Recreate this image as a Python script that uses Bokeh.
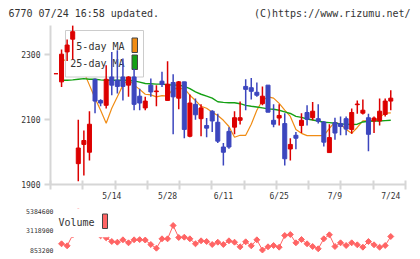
import numpy as np
from bokeh.plotting import figure
from bokeh.layouts import column
from bokeh.models import (FixedTicker, LinearAxis, ColumnDataSource,
                          CustomJSTickFormatter, NumeralTickFormatter, Range1d)
from bokeh.core.properties import value
from bokeh.embed import file_html
from bokeh.resources import INLINE

FONT = "DejaVu Sans Mono"

# ---------------- data (2018 trading days) ----------------
dates = ["4/25", "4/26", "4/27", "5/1", "5/2", "5/7", "5/8", "5/9", "5/10", "5/11",
         "5/14", "5/15", "5/16", "5/17", "5/18", "5/21", "5/22", "5/23", "5/24", "5/25",
         "5/28", "5/29", "5/30", "5/31", "6/1", "6/4", "6/5", "6/6", "6/7", "6/8",
         "6/11", "6/12", "6/13", "6/14", "6/15", "6/18", "6/19", "6/20", "6/21", "6/22",
         "6/25", "6/26", "6/27", "6/28", "6/29", "7/2", "7/3", "7/4", "7/5", "7/6",
         "7/9", "7/10", "7/11", "7/12", "7/13", "7/17", "7/18", "7/19", "7/20", "7/23",
         "7/24"]

open_ = [2240, 2215, 2307, 2346, 1964, 2023, 1999, 2223, 2158, 2143,
         2230, 2220, 2230, 2205, 2230, 2171, 2135, 2205, 2185, 2217,
         2158, 2213, 2165, 2215, 2048, 2146, 2102, 2081, 2125, 2091,
         2015, 2063, 2076, 2097, 2201, 2197, 2183, 2148, 2205, 2097,
         2104, 2087, 2009, 2051, 2081, 2121, 2105, 2102, 2092, 1998,
         2090, 2087, 2102, 2069, 2145, 2119, 2105, 2095, 2095, 2115,
         2156]
high = [2240, 2314, 2345, 2389, 2099, 2066, 2125, 2225, 2162, 2266,
        2307, 2312, 2287, 2232, 2256, 2194, 2169, 2225, 2205, 2246,
        2278, 2238, 2218, 2215, 2176, 2164, 2146, 2104, 2128, 2117,
        2027, 2076, 2125, 2155, 2223, 2227, 2213, 2201, 2205, 2146,
        2146, 2119, 2042, 2061, 2119, 2143, 2153, 2146, 2095, 2085,
        2105, 2109, 2109, 2133, 2158, 2161, 2117, 2109, 2164, 2164,
        2189]
low = [2240, 2199, 2279, 2284, 1910, 1928, 1974, 2119, 2140, 2133,
       2174, 2179, 2158, 2169, 2128, 2128, 2128, 2169, 2140, 2199,
       2158, 2054, 2131, 2042, 2045, 2099, 2048, 2045, 2061, 2027,
       1958, 2010, 2054, 2084, 2128, 2161, 2169, 2143, 2122, 2076,
       2081, 1958, 1974, 2008, 2058, 2081, 2097, 2087, 2017, 1998,
       2037, 2051, 2051, 2056, 2117, 2115, 2002, 2058, 2081, 2109,
       2128]
close = [2240, 2300, 2328, 2369, 2012, 2035, 2085, 2156, 2150, 2223,
         2205, 2201, 2201, 2230, 2146, 2150, 2156, 2184, 2187, 2207,
         2208, 2169, 2215, 2069, 2150, 2114, 2135, 2073, 2095, 2033,
         1999, 2015, 2105, 2105, 2192, 2186, 2174, 2171, 2122, 2085,
         2112, 1979, 2023, 2042, 2097, 2100, 2125, 2094, 2030, 2044,
         2058, 2078, 2070, 2121, 2147, 2128, 2054, 2104, 2125, 2156,
         2165]

# from 4/26 onward
ma5 = [2282, 2282, 2275, 2288, 2245, 2205, 2165, 2128, 2088, 2134,
       2169, 2205, 2223, 2205, 2192, 2177, 2175, 2169, 2173, 2171,
       2194, 2195, 2194, 2174, 2158, 2140, 2134, 2122, 2112, 2097,
       2078, 2045, 2051, 2051, 2085, 2128, 2158, 2169, 2165, 2149,
       2128, 2109, 2069, 2057, 2050, 2050, 2050, 2050, 2072, 2092,
       2085, 2069, 2057, 2075, 2095, 2095, 2095, 2106, 2119, 2120]
ma25 = [2220, 2220, 2221, 2223, 2225, 2223, 2223, 2221, 2220, 2220,
        2220, 2220, 2220, 2218, 2214, 2210, 2209, 2208, 2208, 2206,
        2205, 2205, 2201, 2194, 2184, 2177, 2171, 2165, 2154, 2152,
        2151, 2151, 2148, 2143, 2140, 2138, 2135, 2132, 2131, 2128,
        2123, 2118, 2109, 2106, 2101, 2098, 2095, 2091, 2090, 2088,
        2086, 2085, 2084, 2085, 2092, 2094, 2095, 2095, 2096, 2097]
volume = [1573600, 1341200, 2600000, 5384600, 4200000, 3300000, 2900000, 2500000, 2270700, 1840800,
          1759500, 2038300, 1689800, 2038300, 2060000, 2010000, 1492200, 1062300, 2154500, 2150000,
          3699900, 2305600, 2340400, 2154500, 1573600, 1922100, 1840800, 1492200, 1759500, 1492200,
          1922100, 1759500, 1225000, 1806000, 1341200, 2038300, 853200, 1225000, 1376100, 1178500,
          2538000, 2654200, 1689800, 2073200, 1573600, 1259900, 992600, 2154500, 2619300, 1259900,
          1689800, 1376100, 1689800, 1457400, 1178500, 1840800, 1457400, 1178500, 1376100, 2421800]

price_ticks = [1900, 2100, 2300]
label_dates = ["5/14", "5/28", "6/11", "6/25", "7/9", "7/24"]
vol_ticks = [853200, 3118900, 5384600]
header_left = "6770 07/24 16:58 updated."
header_right = "(C)https://www.rizumu.net/"

# ---------------- style ----------------
RED = "#dc0000"
BLUE = "#3c46be"
ORANGE = "#f08c14"
GREEN = "#14a014"
VOLC = "#ff6464"
AXIS = "#d6d6d6"
TXT = "#333333"
W = 420


def base_fig(h, xr, yr, **kw):
    f = figure(width=W, height=h, x_range=xr, y_range=yr, output_backend="svg",
               toolbar_location=None, frame_align=False, **kw)
    f.outline_line_color = None
    f.background_fill_color = "white"
    f.border_fill_color = "white"
    f.xgrid.visible = False
    f.ygrid.visible = False
    return f


# ---------------- header strip (canvas y 0..25) ----------------
hd = base_fig(25, Range1d(0, W), Range1d(25, 0), x_axis_location=None, y_axis_location=None,
              min_border=0, min_border_left=0, min_border_right=0, min_border_top=0,
              min_border_bottom=0)
hd.text(x=[8], y=[12.7], text=[header_left], text_font=value(FONT), text_font_size="10px",
        text_color=TXT, text_align="left", text_baseline="middle")
hd.text(x=[410], y=[12.7], text=[header_right], text_font=value(FONT), text_font_size="10px",
        text_color=TXT, text_align="right", text_baseline="middle")

# ---------------- price panel (canvas y 25..204) ----------------
XA0, XA1 = -1.98, 61.64
YA0, YA1 = 1900, 2388
FL, FR, FT, FB = 50, 405, 25, 184     # price frame in canvas px
SX = (XA1 - XA0) / (FR - FL)
SY = (YA1 - YA0) / (FB - FT)
def ax(px): return XA0 + (px - FL) * SX
def ay(py): return YA0 + (FB - py) * SY

xs = np.arange(len(dates)) - 1
o = np.array(open_, float); c = np.array(close, float)
h = np.array(high, float); l = np.array(low, float)
up = c >= o
top = np.maximum(o, c); bot = np.minimum(o, c)

p = base_fig(204 - FT, Range1d(XA0, XA1), Range1d(YA0, YA1),
             min_border_left=FL, min_border_right=W - FR, min_border_top=0,
             min_border_bottom=204 - FB)

ya = p.yaxis[0]
ya.ticker = FixedTicker(ticks=price_ticks)
ya.major_tick_in = 0
ya.major_tick_out = 6
ya.minor_tick_line_color = None
ya.axis_line_color = AXIS
ya.axis_line_width = 2
ya.major_tick_line_color = AXIS
ya.major_tick_line_width = 2
ya.major_label_standoff = 4
ya.major_label_text_font = FONT
ya.major_label_text_font_size = "8px"
ya.major_label_text_color = TXT

xa = p.xaxis[0]
xa.ticker = FixedTicker(ticks=list(np.linspace(XA0, XA1, 12)))
xa.formatter = CustomJSTickFormatter(code="return ''")
xa.major_label_text_font_size = "1px"
xa.major_label_standoff = 0
xa.major_tick_in = 4
xa.major_tick_out = 5
xa.minor_tick_line_color = None
xa.axis_line_color = AXIS
xa.axis_line_width = 2
xa.major_tick_line_color = AXIS
xa.major_tick_line_width = 2

lab_x = [dates.index(d) - 1 for d in label_dates]
da = LinearAxis(ticker=FixedTicker(ticks=lab_x),
                major_label_overrides={k: t for k, t in zip(lab_x, label_dates)},
                axis_line_color=None, major_tick_line_color=None, minor_tick_line_color=None,
                major_tick_in=0, major_tick_out=0, major_label_standoff=2,
                major_label_text_font=FONT, major_label_text_font_size="8px",
                major_label_text_color=TXT)
p.add_layout(da, "below")

# moving averages
mx = xs[1:]
p.line(mx, ma5, line_color=ORANGE, line_width=1.2)
p.line(mx, ma25, line_color=GREEN, line_width=1.4)

# legend (under candles)
p.quad(left=[ax(65)], right=[ax(143)], top=[ay(30)], bottom=[ay(76.5)],
       fill_color="white", line_color="#cccccc", line_width=1)
p.text(x=[ax(124), ax(124)], y=[ay(45.5), ay(63)], text=["5-day MA", "25-day MA"],
       text_font=value(FONT), text_font_size="10px", text_color=TXT,
       text_align="right", text_baseline="middle")
p.quad(left=[ax(131.5), ax(131.5)], right=[ax(137), ax(137)],
       top=[ay(37.5), ay(54.5)], bottom=[ay(52), ay(69)],
       fill_color=[ORANGE, GREEN], line_color="#444444", line_width=1)

# candles
for mask, col in ((up, RED), (~up, BLUE)):
    src = ColumnDataSource(dict(x=xs[mask], h=h[mask], l=l[mask], t=top[mask], b=bot[mask]))
    p.segment(x0="x", y0="h", x1="x", y1="l", source=src, line_color=col, line_width=1.5)
    p.vbar(x="x", width=0.72, top="t", bottom="b", source=src,
           fill_color=col, line_color=col, line_width=1)

# ---------------- volume panel (canvas y 204..259) ----------------
BL, BT, BB = 55, 208, 254
XB0 = ax(BL)
VPX = 116190.0
def by(py): return 853200 + (249.5 - py) * VPX
YB0, YB1 = by(BB), by(BT)

q = base_fig(55, Range1d(XB0, XA1), Range1d(YB0, YB1), x_axis_location=None,
             min_border_left=BL, min_border_right=W - FR, min_border_top=BT - 204,
             min_border_bottom=259 - BB)
va = q.yaxis[0]
va.ticker = FixedTicker(ticks=vol_ticks)
va.formatter = NumeralTickFormatter(format="0")
va.axis_line_color = None
va.major_tick_line_color = None
va.minor_tick_line_color = None
va.major_tick_in = 0
va.major_tick_out = 0
va.major_label_standoff = 2
va.major_label_text_font = FONT
va.major_label_text_font_size = "6.5px"
va.major_label_text_color = TXT

vx = xs[1:]
q.line(vx, volume, line_color=VOLC, line_width=1)
q.scatter(vx, volume, marker="square", angle=np.pi / 4, size=4.2,
          fill_color=VOLC, line_color=VOLC)
q.quad(left=[ax(57)], right=[ax(108)], top=[by(204)], bottom=[by(236.7)],
       fill_color="white", line_color=None)
q.text(x=[ax(58)], y=[by(222.3)], text=["Volume"], text_font=value(FONT),
       text_font_size="10px", text_color=TXT, text_align="left", text_baseline="middle")
q.quad(left=[ax(102)], right=[ax(107)], top=[by(213.5)], bottom=[by(228)],
       fill_color=VOLC, line_color="#444444", line_width=1)

layout = column(hd, p, q, spacing=0)
open("out.html", "w").write(file_html(layout, INLINE))
